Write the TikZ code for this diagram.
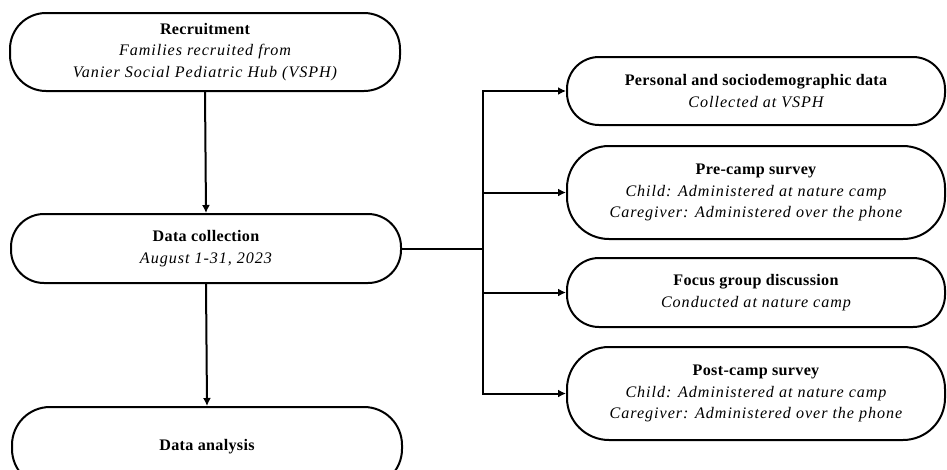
\documentclass[tikz,border=0pt]{standalone}
\usepackage{fontspec}
\setmainfont{Liberation Serif}
\newfontfamily\bfsp{Liberation Serif}[LetterSpace=2]
\newfontfamily\itsp{Liberation Serif}[LetterSpace=6]
\usetikzlibrary{arrows.meta}
\newcommand{\ttl}[1]{{\bfsp\bfseries #1}}
\newcommand{\sub}[1]{{\itsp\itshape #1}}
\begin{document}
\begin{tikzpicture}[x=1pt,y=-1pt,
  box/.style={draw, line width=2pt, align=center, inner sep=0pt,
    font=\fontsize{16.1}{21.5}\selectfont},
  lbox/.style={box, minimum width=390pt},
  rbox/.style={box, minimum width=378pt},
  conn/.style={line width=2pt},
  arr/.style={conn, -{Latex[length=8pt,width=8pt]}}]
\useasboundingbox (0,0) rectangle (947,469);
\clip (0,0) rectangle (947,469);
\fill[white] (0,0) rectangle (947,469);

\node[lbox, minimum height=78pt, rounded corners=36pt] (rec) at (205,52)
  {\ttl{Recruitment}\\\sub{Families recruited from}\\\sub{Vanier Social Pediatric Hub (VSPH)}};
\node[lbox, minimum height=69pt, rounded corners=33pt] (col) at (206,248.5)
  {\ttl{Data collection}\\\sub{August 1-31, 2023}};
\node[lbox, minimum height=80pt, rounded corners=38pt] (ana) at (207,447)
  {\ttl{Data analysis}};

\node[rbox, minimum height=68pt, rounded corners=32pt] (per) at (756,91)
  {\ttl{Personal and sociodemographic data}\\\sub{Collected at VSPH}};
\node[rbox, minimum height=93pt, rounded corners=42pt] (pre) at (756,192.5)
  {\ttl{Pre-camp survey}\\\sub{Child: Administered at nature camp}\\\sub{Caregiver: Administered over the phone}};
\node[rbox, minimum height=69pt, rounded corners=32pt] (foc) at (756,292.5)
  {\ttl{Focus group discussion}\\\sub{Conducted at nature camp}};
\node[rbox, minimum height=93pt, rounded corners=42pt] (pos) at (756,393.5)
  {\ttl{Post-camp survey}\\\sub{Child: Administered at nature camp}\\\sub{Caregiver: Administered over the phone}};

\draw[arr] (rec.south) -- (col.north);
\draw[arr] (col.south) -- (ana.north);

\coordinate (bus) at (483,248.5);
\coordinate (bt) at (483,91);
\coordinate (bb) at (483,393.5);
\draw[conn] (col.east) -- (bus);
\draw[conn, line cap=rect] (bt) -- (bb);
\draw[arr] (bt) -- (per.west);
\draw[arr] (483,192.5) -- (pre.west);
\draw[arr] (483,292.5) -- (foc.west);
\draw[arr] (bb) -- (pos.west);
\end{tikzpicture}
\end{document}
